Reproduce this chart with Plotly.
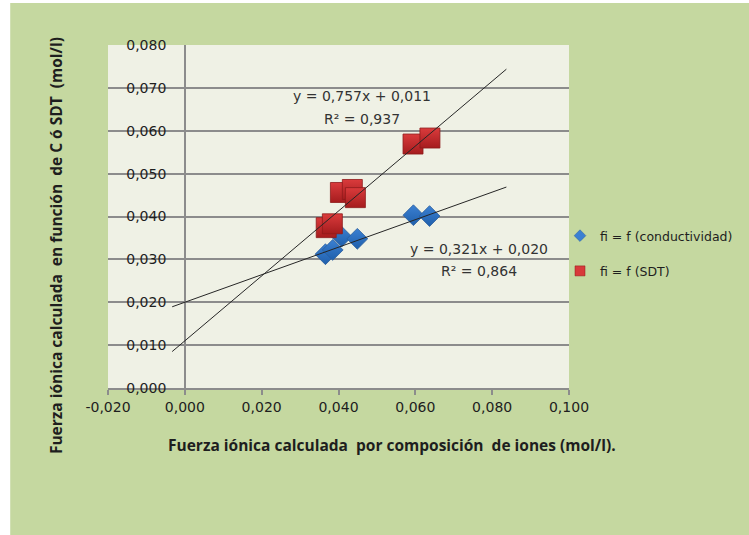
import plotly.graph_objects as go

# ---------------- data ----------------
cond_x = [0.0366, 0.0385, 0.0408, 0.0449, 0.0595, 0.0637]
cond_y = [0.0312, 0.0322, 0.0353, 0.0348, 0.0403, 0.0401]

sdt_x = [0.0368, 0.0384, 0.0405, 0.0436, 0.0444, 0.0594, 0.0638]
sdt_y = [0.0374, 0.0383, 0.0456, 0.0463, 0.0444, 0.0569, 0.0583]

cond_fit = {"slope": 0.321, "intercept": 0.020}
sdt_fit = {"slope": 0.757, "intercept": 0.011}
trend_x = [-0.0033, 0.0837]

cond_name = "fi = f (conductividad)"
sdt_name = "fi = f (SDT)"
cond_eq = ["y = 0,321x + 0,020", "R² = 0,864"]
sdt_eq = ["y = 0,757x + 0,011", "R² = 0,937"]

x_ticks = [-0.02, 0.0, 0.02, 0.04, 0.06, 0.08, 0.10]
x_ticktext = ["-0,020", "0,000", "0,020", "0,040", "0,060", "0,080", "0,100"]
y_ticks = [0.0, 0.01, 0.02, 0.03, 0.04, 0.05, 0.06, 0.07, 0.08]
y_ticktext = ["0,000", "0,010", "0,020", "0,030", "0,040", "0,050", "0,060", "0,070", "0,080"]

x_title = "Fuerza iónica calculada\u00a0 por composición\u00a0 de iones (mol/l)."
y_title = "Fuerza iónica calculada\u00a0 en función\u00a0 de C ó SDT\u00a0 (mol/l)"

# ---------------- layout geometry (pixels) ----------------
W, H = 749, 535
L, R, T, B = 108, 570, 45, 388
PW, PH = R - L, B - T
X0_PIX = 184.5  # pixel column of x = 0


def px(xp):
    return (xp - L) / PW


def py(yp):
    return (B - yp) / PH


GREEN = "#c5d8a0"
PLOTBG = "#eff1e5"
GRID = "#8c8c8c"
TXT = "#1e1e1e"
EQ_FONT = dict(family="DejaVu Sans", size=14, color="#333333")
TITLE_FONT = dict(family="Open Sans", size=15.5, color=TXT, weight="bold")

fig = go.Figure()

fig.add_trace(go.Scatter(
    x=cond_x, y=cond_y, mode="markers", name=cond_name, showlegend=False,
    marker=dict(symbol="diamond", size=16, color="#3b80d2",
                gradient=dict(type="vertical", color="#1f5fab"),
                line=dict(color="#2a5d9c", width=0.8)),
))
fig.add_trace(go.Scatter(
    x=sdt_x, y=sdt_y, mode="markers", name=sdt_name, showlegend=False,
    marker=dict(symbol="square", size=20, color="#da3b3c",
                gradient=dict(type="vertical", color="#a51c1e"),
                line=dict(color="#8e1a1b", width=0.8)),
))

for fit in (cond_fit, sdt_fit):
    fig.add_trace(go.Scatter(
        x=trend_x, y=[fit["slope"] * v + fit["intercept"] for v in trend_x],
        yaxis="y2", mode="lines", line=dict(color="#262626", width=1),
        showlegend=False, hoverinfo="skip",
    ))

# legend entries (small glyphs, like the reference legend)
fig.add_trace(go.Scatter(
    x=[None], y=[None], mode="markers", name=cond_name, legendgroup="a",
    marker=dict(symbol="diamond", size=9, color="#3b80d2",
                line=dict(color="#2a5d9c", width=0.5)),
))
fig.add_trace(go.Scatter(
    x=[None], y=[None], mode="markers", name=sdt_name, legendgroup="b",
    marker=dict(symbol="square", size=10, color="#d8393a",
                line=dict(color="#8e1a1b", width=0.5)),
))

shapes = [
    dict(type="rect", xref="paper", yref="paper", layer="below",
         x0=px(10), x1=px(W + 5), y0=py(H + 5), y1=py(3),
         fillcolor=GREEN, line=dict(width=0)),
    dict(type="rect", xref="paper", yref="paper", layer="below",
         x0=0, x1=1, y0=0, y1=1, fillcolor=PLOTBG, line=dict(width=0)),
]

annotations = [
    dict(x=0.046, y=0.0680, xref="x", yref="y", text=sdt_eq[0], showarrow=False, font=EQ_FONT),
    dict(x=0.046, y=0.0628, xref="x", yref="y", text=sdt_eq[1], showarrow=False, font=EQ_FONT),
    dict(x=0.0767, y=0.0325, xref="x", yref="y", text=cond_eq[0], showarrow=False, font=EQ_FONT),
    dict(x=0.0767, y=0.0272, xref="x", yref="y", text=cond_eq[1], showarrow=False, font=EQ_FONT),
    dict(x=px(393), y=py(445), xref="paper", yref="paper", text=x_title,
         xanchor="center", yanchor="middle", showarrow=False, font=TITLE_FONT),
    dict(x=px(56), y=py(246), xref="paper", yref="paper", text=y_title,
         xanchor="center", yanchor="middle", textangle=-90, showarrow=False,
         font=TITLE_FONT),
]

fig.update_layout(
    width=W, height=H,
    margin=dict(l=L, r=W - R, t=T, b=H - B, pad=0),
    paper_bgcolor="white", plot_bgcolor=PLOTBG,
    shapes=shapes, annotations=annotations,
    showlegend=True,
    legend=dict(x=px(560), y=py(221), xanchor="left", yanchor="top",
                bgcolor="rgba(0,0,0,0)", itemsizing="trace",
                traceorder="grouped", tracegroupgap=16,
                font=dict(family="DejaVu Sans", size=12.5, color=TXT)),
    xaxis=dict(range=[-0.02, 0.1], tickvals=x_ticks, ticktext=x_ticktext,
               showgrid=False, zeroline=True, zerolinecolor=GRID, zerolinewidth=1.5,
               showline=True, linecolor=GRID, linewidth=1.5,
               ticks="outside", ticklen=5, tickcolor=GRID, tickwidth=1.5,
               tickfont=dict(family="DejaVu Sans", size=14, color=TXT)),
    yaxis=dict(range=[0, 0.08], tickvals=y_ticks,
               showgrid=True, gridcolor=GRID, gridwidth=1.5, zeroline=False,
               showline=False, ticks="", showticklabels=False),
    yaxis2=dict(range=[0, 0.08], matches="y", overlaying="y", anchor="free",
                position=px(X0_PIX), side="left",
                tickvals=y_ticks, ticktext=y_ticktext,
                showgrid=False, zeroline=False, showline=False, ticks="",
                ticklabelstandoff=18,
                tickfont=dict(family="DejaVu Sans", size=14, color=TXT)),
)

fig.write_html("out.html", config={"displayModeBar": False},
               post_script="document.body.style.margin='0px';")
